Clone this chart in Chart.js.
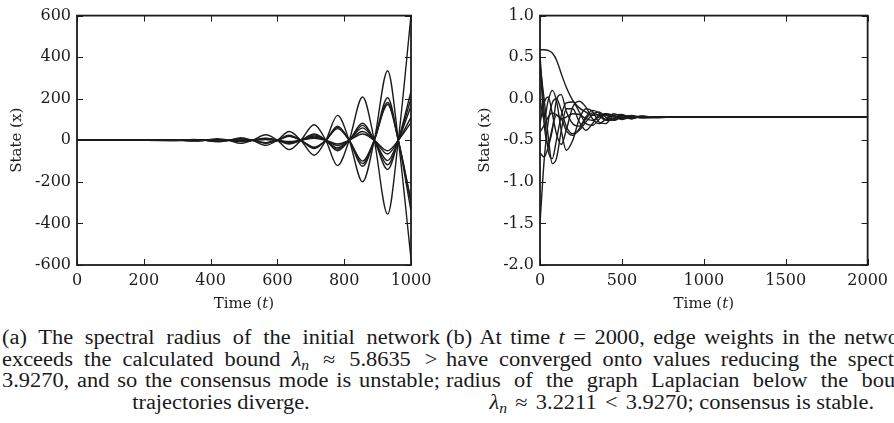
<!DOCTYPE html>
<html>
<head>
<meta charset="utf-8">
<script src="https://cdn.jsdelivr.net/npm/chart.js@4.4.1/dist/chart.umd.min.js"></script>
<style>
  html, body { margin: 0; padding: 0; background: #fff; }
  body { width: 894px; height: 423px; overflow: hidden; position: relative; }
  canvas { position: absolute; top: 0; }
  #left { left: 0; }
  #right { left: 447px; }
  .cap {
    position: absolute; top: 327px;
    font-family: "Liberation Serif", "Times New Roman", serif;
    font-size: 20px; line-height: 21.7px; color: #1a1a1a;
    transform: scaleX(1.12); transform-origin: 0 0;
  }
  .cap .j { text-align: justify; text-align-last: justify; }
  .cap .c { text-align: center; }
  .cap sub { font-size: 0.7em; line-height: 0; vertical-align: -0.25em; }
  .cap .rel { padding: 0 0.12em; }
</style>
</head>
<body>
<canvas id="left" width="447" height="325"></canvas>
<canvas id="right" width="447" height="325"></canvas>

<div class="cap" style="left:2px; width:391px">
  <div class="j">(a) The spectral radius of the initial network</div>
  <div class="j">exceeds the calculated bound <i>λ<sub>n</sub></i> <span class="rel">≈</span> 5.8635 <span class="rel">&gt;</span></div>
  <div class="j">3.9270, and so the consensus mode is unstable;</div>
  <div class="c">trajectories diverge.</div>
</div>
<div class="cap" style="left:446px; width:421px">
  <div class="j">(b) At time <i>t</i> = 2000, edge weights in the network</div>
  <div class="j">have converged onto values reducing the spectral</div>
  <div class="j">radius of the graph Laplacian below the bound</div>
  <div class="c"><i>λ<sub>n</sub></i> <span class="rel">≈</span> 3.2211 <span class="rel">&lt;</span> 3.9270; consensus is stable.</div>
</div>

<script>
// (a) unstable network, t = 0..1000
const leftTime = [0, 140, 280, 350, 385, 420, 455, 490, 525, 565, 600, 635, 670, 710, 745, 780, 815, 855, 890, 930, 962, 1000];
const leftSeries = [
  [0, 0, -1, 4, 0, -7, 0, 13, 0, -24, 0, 42, 0, -72, 0, 120, 0, -200, 0, 335, 0, -570],
  [0, 0, 1, -4, 0, 8, 0, -15, 0, 27, 0, -45, 0, 75, 0, -122, 0, 208, 0, -355, 0, 600],
  [0, 0, -1, 2, 0, -4, 0, 8, 0, -14, 0, 24, 0, -40, 0, 68, 0, -125, 0, 205, 0, -340],
  [0, 0, 0, 2, 0, -4, 0, 7, 0, -12, 0, 21, 0, -36, 0, 62, 0, -112, 0, 182, 0, -300],
  [0, 0, 0, 2, 0, -3, 0, 6, 0, -11, 0, 19, 0, -33, 0, 56, 0, -100, 0, 172, 0, -290],
  [0, 0, 0, -1, 0, 3, 0, -6, 0, 10, 0, -18, 0, 30, 0, -50, 0, 82, 0, -140, 0, 235],
  [0, 0, 0, -1, 0, 3, 0, -5, 0, 9, 0, -15, 0, 26, 0, -43, 0, 72, 0, -118, 0, 200],
  [0, 0, 0, -1, 0, 2, 0, -4, 0, 7, 0, -12, 0, 21, 0, -36, 0, 60, 0, -98, 0, 165],
  [0, 0, 0, 0, 0, 2, 0, -3, 0, 5, 0, -9, 0, 15, 0, -25, 0, 42, 0, -66, 0, 110],
  [0, 0, 0, 0, 0, 1, 0, -2, 0, 4, 0, -6, 0, 10, 0, -18, 0, 30, 0, -50, 0, 85]
];
const leftXTicks = [0, 200, 400, 600, 800, 1000];
const leftYTicks = [-600, -400, -200, 0, 200, 400, 600];

// (b) adapted network, t = 0..2000
const rightTime = [0, 25, 50, 75, 100, 130, 160, 200, 240, 280, 320, 360, 400, 450, 500, 560, 620, 700, 800, 1000, 1500, 2000];
const rightSeries = [
  [0.59, 0.59, 0.58, 0.55, 0.47, 0.3, 0.14, -0.02, -0.11, -0.16, -0.2, -0.19, -0.18, -0.21, -0.24, -0.21, -0.22, -0.23, -0.22, -0.22, -0.22, -0.22],
  [0.52, -0.15, -0.62, -0.72, -0.5, -0.2, -0.05, -0.04, -0.16, -0.3, -0.32, -0.25, -0.18, -0.2, -0.25, -0.22, -0.21, -0.22, -0.22, -0.22, -0.22, -0.22],
  [0.4, 0.0, -0.45, -0.78, -0.72, -0.38, -0.12, -0.12, -0.28, -0.38, -0.3, -0.2, -0.19, -0.26, -0.22, -0.2, -0.23, -0.22, -0.22, -0.22, -0.22, -0.22],
  [0.0, -0.25, -0.02, 0.1, -0.02, -0.38, -0.62, -0.5, -0.24, -0.12, -0.15, -0.28, -0.3, -0.2, -0.19, -0.24, -0.21, -0.22, -0.22, -0.22, -0.22, -0.22],
  [-0.4, -0.32, -0.22, -0.17, -0.19, -0.24, -0.22, -0.18, -0.19, -0.24, -0.26, -0.22, -0.2, -0.22, -0.23, -0.22, -0.22, -0.22, -0.22, -0.22, -0.22, -0.22],
  [-0.65, -0.7, -0.58, -0.35, -0.2, -0.24, -0.38, -0.44, -0.36, -0.24, -0.17, -0.2, -0.26, -0.25, -0.2, -0.23, -0.22, -0.22, -0.22, -0.22, -0.22, -0.22],
  [-1.5, -0.75, -0.28, -0.05, 0.0, -0.14, -0.33, -0.42, -0.38, -0.28, -0.19, -0.16, -0.22, -0.26, -0.21, -0.21, -0.23, -0.22, -0.22, -0.22, -0.22, -0.22],
  [0.45, -0.3, -0.55, -0.38, -0.02, 0.05, -0.15, -0.3, -0.33, -0.22, -0.14, -0.17, -0.25, -0.24, -0.2, -0.22, -0.22, -0.22, -0.22, -0.22, -0.22, -0.22],
  [-0.3, -0.05, 0.02, -0.18, -0.42, -0.55, -0.38, -0.1, -0.03, -0.1, -0.24, -0.3, -0.25, -0.18, -0.22, -0.24, -0.21, -0.22, -0.22, -0.22, -0.22, -0.22]
];
const rightXTicks = [0, 500, 1000, 1500, 2000];
const rightYTicks = [-2.0, -1.5, -1.0, -0.5, 0.0, 0.5, 1.0];

const INK = '#1c1c1c';
const TICK_FONT = { family: '"DejaVu Serif", serif', size: 16 };

// box round the plot, inward ticks on all four sides, axis titles
const framePlugin = {
  id: 'frame',
  afterDatasetsDraw(chart, args, opts) {
    const { ctx, chartArea: a, scales: { x, y } } = chart;
    ctx.save();
    ctx.strokeStyle = INK;
    ctx.lineWidth = 1;
    ctx.beginPath();
    x.ticks.forEach(t => {
      const px = Math.round(x.getPixelForValue(t.value)) + 0.5;
      ctx.moveTo(px, a.bottom); ctx.lineTo(px, a.bottom - 6);
      ctx.moveTo(px, a.top); ctx.lineTo(px, a.top + 6);
    });
    y.ticks.forEach(t => {
      const py = Math.round(y.getPixelForValue(t.value)) + 0.5;
      ctx.moveTo(a.left, py); ctx.lineTo(a.left + 6, py);
      ctx.moveTo(a.right, py); ctx.lineTo(a.right - 6, py);
    });
    ctx.stroke();
    ctx.lineWidth = 1.8;
    ctx.strokeRect(a.left, a.top, a.right - a.left, a.bottom - a.top);

    // x title: Time (t) with italic t
    ctx.fillStyle = INK;
    ctx.textBaseline = 'alphabetic';
    const up = '15px "DejaVu Serif", serif';
    const it = 'italic 15px "DejaVu Serif", serif';
    const parts = [['Time (', up], ['t', it], [')', up]];
    let w = 0;
    parts.forEach(p => { ctx.font = p[1]; w += ctx.measureText(p[0]).width; });
    let cx = (a.left + a.right) / 2 - w / 2;
    parts.forEach(p => {
      ctx.font = p[1];
      ctx.fillText(p[0], cx, a.bottom + 43);
      cx += ctx.measureText(p[0]).width;
    });

    // y title
    ctx.translate(opts.yTitleX, (a.top + a.bottom) / 2);
    ctx.rotate(-Math.PI / 2);
    ctx.font = up;
    ctx.textAlign = 'center';
    ctx.textBaseline = 'middle';
    ctx.fillText('State (x)', 0, 0);
    ctx.restore();
  }
};

function makeChart(id, time, series, xTicks, yTicks, geom, fmt) {
  const datasets = series.map(vals => ({
    data: vals.map((v, i) => ({ x: time[i], y: v })),
    borderColor: INK,
    borderWidth: 1.4,
    pointRadius: 0,
    fill: false,
    cubicInterpolationMode: 'monotone'
  }));
  return new Chart(document.getElementById(id).getContext('2d'), {
    type: 'line',
    data: { datasets },
    options: {
      responsive: false,
      animation: false,
      events: [],
      layout: { padding: { left: 0, top: geom.top, right: geom.right, bottom: 0 } },
      plugins: {
        legend: { display: false },
        tooltip: { enabled: false },
        frame: { yTitleX: geom.yTitleX }
      },
      scales: {
        x: {
          type: 'linear',
          min: xTicks[0], max: xTicks[xTicks.length - 1],
          afterBuildTicks: s => { s.ticks = xTicks.map(v => ({ value: v })); },
          afterFit: s => { s.height = geom.xHeight; },
          grid: { display: false, drawTicks: false },
          border: { display: false },
          ticks: { color: INK, font: TICK_FONT, padding: 6, maxRotation: 0, callback: v => String(v) }
        },
        y: {
          type: 'linear',
          min: yTicks[0], max: yTicks[yTicks.length - 1],
          afterBuildTicks: s => { s.ticks = yTicks.map(v => ({ value: v })); },
          afterFit: s => { s.width = geom.yWidth; },
          grid: { display: false, drawTicks: false },
          border: { display: false },
          ticks: { color: INK, font: TICK_FONT, padding: 6, callback: fmt }
        }
      }
    },
    plugins: [framePlugin]
  });
}

makeChart('left', leftTime, leftSeries, leftXTicks, leftYTicks,
  { top: 14, right: 36, xHeight: 60, yWidth: 77, yTitleX: 17 },
  v => String(v));

makeChart('right', rightTime, rightSeries, rightXTicks, rightYTicks,
  { top: 14, right: 21, xHeight: 60, yWidth: 93, yTitleX: 38 },
  v => v.toFixed(1));
</script>
</body>
</html>
